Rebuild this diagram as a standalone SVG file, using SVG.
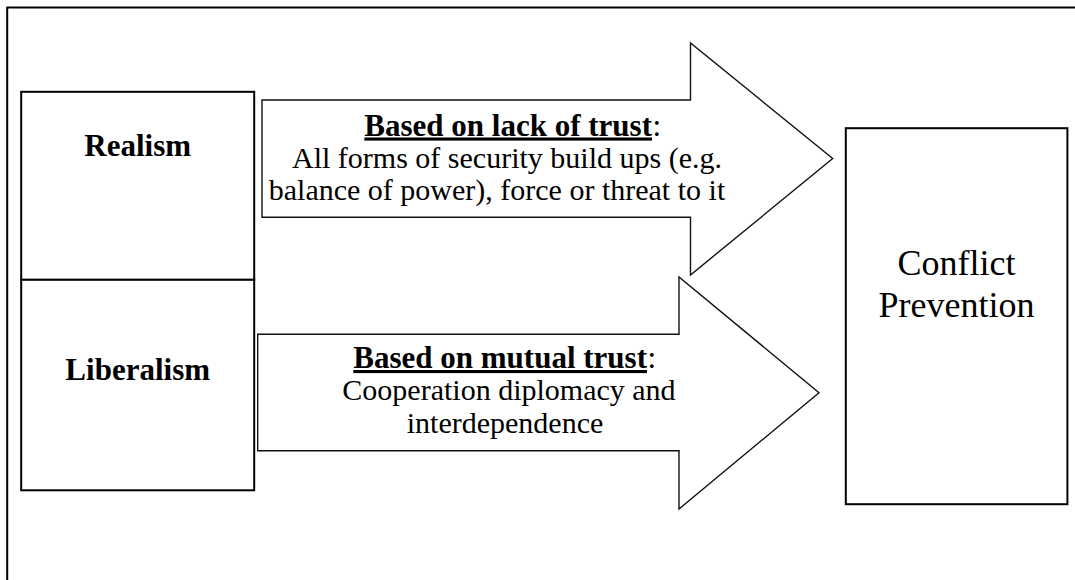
<svg xmlns="http://www.w3.org/2000/svg" width="1075" height="580" viewBox="0 0 1075 580">
<style>
.box{fill:#fff;stroke:#000;stroke-width:2}
.arrow{fill:#fff;stroke:#111;stroke-width:1.4;stroke-linejoin:miter}
.b{font-family:"Liberation Serif","Times New Roman",serif;font-weight:bold;font-size:31px;fill:#000;text-anchor:middle}
.h{font-family:"Liberation Serif","Times New Roman",serif;font-weight:bold;font-size:31px;fill:#000;text-anchor:end;text-decoration:underline}
.colon{font-family:"Liberation Serif","Times New Roman",serif;font-size:31px;fill:#000;text-anchor:start}
.r{font-family:"Liberation Serif","Times New Roman",serif;font-size:30px;fill:#000;text-anchor:middle}
.c{font-family:"Liberation Serif","Times New Roman",serif;font-size:36px;fill:#000;text-anchor:middle}
</style>
<rect width="1075" height="580" fill="#fff"/>
<path d="M7.2,582 V7.5 H1078" fill="none" stroke="#000" stroke-width="2"/>
<g id="realism">
<rect class="box" x="21.2" y="91.8" width="233" height="188"/>
<text class="b" x="137.7" y="156">Realism</text>
</g>
<g id="liberalism">
<rect class="box" x="21.2" y="279.8" width="233" height="210.5"/>
<text class="b" x="137.7" y="380">Liberalism</text>
</g>
<g id="conflict-prevention">
<rect class="box" x="845.8" y="128.2" width="221.6" height="376"/>
<text class="c" x="956.6" y="275">Conflict</text>
<text class="c" x="956.6" y="317">Prevention</text>
</g>
<g id="connectors">
<g id="arrow-lack-of-trust">
<path class="arrow" d="M262,100 H690.5 V43 L832.7,158.5 L690.5,275 V217.3 H262 Z"/>
<text class="h" x="652" y="135.5">Based on lack of trust</text>
<text class="colon" x="652.5" y="135.5">:</text>
<text class="r" x="507" y="167.5">All forms of security build ups (e.g.</text>
<text class="r" x="497" y="199.5">balance of power), force or threat to it</text>
</g>
<g id="arrow-mutual-trust">
<path class="arrow" d="M257.7,334.3 H679 V277 L819,392.7 L679,509 V450.7 H257.7 Z"/>
<text class="h" x="647" y="368">Based on mutual trust</text>
<text class="colon" x="647.5" y="368">:</text>
<text class="r" x="509" y="400">Cooperation diplomacy and</text>
<text class="r" x="505" y="433">interdependence</text>
</g>
</g>
</svg>
